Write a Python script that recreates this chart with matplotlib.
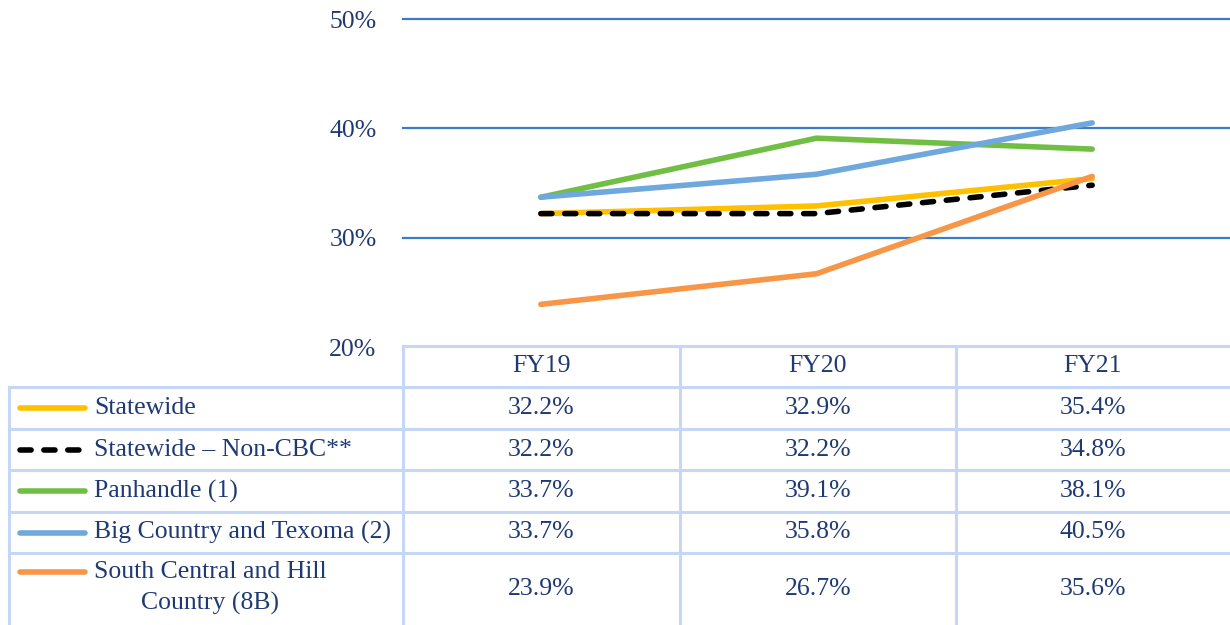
import matplotlib
matplotlib.use("Agg")
import matplotlib.pyplot as plt

categories = ["FY19", "FY20", "FY21"]
series_names = ["Statewide", "Statewide – Non-CBC**", "Panhandle (1)",
                "Big Country and Texoma (2)", "South Central and Hill\nCountry (8B)"]
statewide = [32.2, 32.9, 35.4]
non_cbc = [32.2, 32.2, 34.8]
panhandle = [33.7, 39.1, 38.1]
big_country = [33.7, 35.8, 40.5]
south_central = [23.9, 26.7, 35.6]
y_ticks = [20, 30, 40, 50]

series_values = [statewide, non_cbc, panhandle, big_country, south_central]
colors = ["#FFC000", "#000000", "#70BF44", "#6FA8DC", "#F79646"]
styles = ["-", (0, (2.0, 2.3)), "-", "-", "-"]

W, H = 1230, 625
fig = plt.figure(figsize=(W / 100, H / 100), dpi=100)
TXT = "#1F3A73"
GRID = "#3A7CC6"
TBL = "#C6D6F6"
FONT = "Liberation Serif"
FS = 18.5

ax_left, ax_right, ax_top, ax_bot = 403, 1230, 19, 347
ax = fig.add_axes([ax_left / W, 1 - ax_bot / H, (ax_right - ax_left) / W, (ax_bot - ax_top) / H])
x = list(range(len(categories)))
order = [4, 2, 3, 0, 1]
for i in order:
    ax.plot(x, series_values[i], color=colors[i], lw=4.0, linestyle=styles[i],
            solid_capstyle="round", dash_capstyle="round", zorder=3 + i * 0.1)
ax.set_xlim(-0.5, len(categories) - 0.5)
ax.set_ylim(20, 50)
ax.set_yticks(y_ticks)
for yt in y_ticks[1:]:
    ax.axhline(yt, color=GRID, lw=1.6, zorder=1, clip_on=False)
ax.set_yticklabels([f"{t}%" for t in y_ticks], fontsize=FS, family=FONT, color=TXT)
ax.tick_params(axis="y", length=0, pad=19)
ax.set_xticks([])
for s in ax.spines.values():
    s.set_visible(False)
ax.patch.set_alpha(0)

# Table overlay
tb = fig.add_axes([0, 0, 1, 1])
tb.set_xlim(0, W)
tb.set_ylim(H, 0)
tb.axis("off")
tb.patch.set_alpha(0)

col_edges = [403, 680, 956, 1230]
row_edges = [346, 387, 429, 470, 512, 553, 625]
lw_t = 2.2
tb.plot([403, W], [row_edges[0]] * 2, color=TBL, lw=lw_t)
for yy in row_edges[1:-1]:
    tb.plot([9, W], [yy, yy], color=TBL, lw=lw_t)
tb.plot([9, 9], [row_edges[1], H], color=TBL, lw=lw_t)
for xx in col_edges[:-1]:
    tb.plot([xx, xx], [row_edges[0], H], color=TBL, lw=lw_t)

for j, c in enumerate(categories):
    cx = (col_edges[j] + col_edges[j + 1]) / 2
    cy = (row_edges[0] + row_edges[1]) / 2
    tb.text(cx, cy, c, ha="center", va="center", fontsize=FS, family=FONT, color=TXT)

for i, name in enumerate(series_names):
    top, bot = row_edges[i + 1], row_edges[i + 2]
    cy = (top + bot) / 2
    if "\n" in name:
        ly = top + 19
        tb.plot([20, 85], [ly, ly], color=colors[i], lw=4.0, linestyle=styles[i],
                solid_capstyle="round", dash_capstyle="round")
        tb.text(94, cy - 1, name, ha="left", va="center", multialignment="center",
                fontsize=FS, family=FONT, color=TXT, linespacing=1.45)
    else:
        tb.plot([20, 85], [cy, cy], color=colors[i], lw=4.0, linestyle=styles[i],
                solid_capstyle="round", dash_capstyle="round")
        tb.text(94, cy, name, ha="left", va="center", fontsize=FS, family=FONT, color=TXT)
    for j, v in enumerate(series_values[i]):
        cx = (col_edges[j] + col_edges[j + 1]) / 2
        tb.text(cx, cy, f"{v:.1f}%", ha="center", va="center", fontsize=FS, family=FONT, color=TXT)

fig.savefig("out.png", dpi=100)
